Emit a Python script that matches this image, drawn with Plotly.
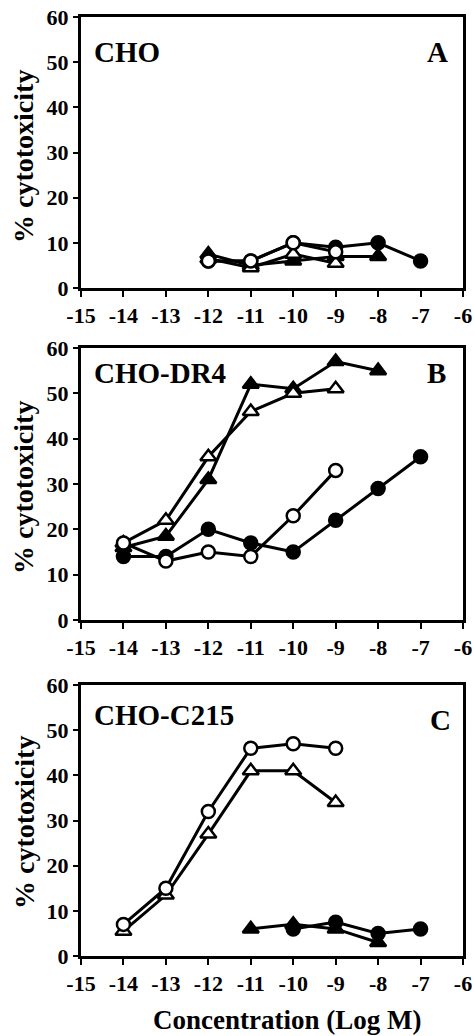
import plotly.graph_objects as go

# ---------------- data ----------------
# Panel A: CHO
a_fc_x = [-12, -11, -10, -9, -8, -7]
a_fc_y = [6, 6, 10, 9, 10, 6]
a_oc_x = [-12, -11, -10, -9]
a_oc_y = [6, 6, 10, 8]
a_ft_x = [-12, -11, -10, -9, -8]
a_ft_y = [7.5, 5, 6, 7, 7]
a_ot_x = [-12, -11, -10, -9]
a_ot_y = [6.5, 4.5, 7.5, 5.5]

# Panel B: CHO-DR4
b_fc_x = [-14, -13, -12, -11, -10, -9, -8, -7]
b_fc_y = [14, 14, 20, 17, 15, 22, 29, 36]
b_oc_x = [-14, -13, -12, -11, -10, -9]
b_oc_y = [17, 13, 15, 14, 23, 33]
b_ft_x = [-14, -13, -12, -11, -10, -9, -8]
b_ft_y = [16, 18.5, 31, 52, 51, 57, 55]
b_ot_x = [-14, -13, -12, -11, -10, -9]
b_ot_y = [17, 22, 36, 46, 50, 51]

# Panel C: CHO-C215
c_fc_x = [-10, -9, -8, -7]
c_fc_y = [6, 7.5, 5, 6]
c_oc_x = [-14, -13, -12, -11, -10, -9]
c_oc_y = [7, 15, 32, 46, 47, 46]
c_ft_x = [-11, -10, -9, -8]
c_ft_y = [6, 7, 6, 3]
c_ot_x = [-14, -13, -12, -11, -10, -9]
c_ot_y = [5.5, 13.5, 27, 41, 41, 34]

x_ticks = [-15, -14, -13, -12, -11, -10, -9, -8, -7, -6]
y_ticks = [0, 10, 20, 30, 40, 50, 60]
panel_names = ["CHO", "CHO-DR4", "CHO-C215"]
panel_letters = ["A", "B", "C"]
y_title = "% cytotoxicity"
x_title = "Concentration (Log M)"

FONT = "Liberation Serif"
W, H = 474, 1036

fig = go.Figure()

def add_series(x, y, xa, ya, symbol, filled, size):
    fig.add_trace(go.Scatter(
        x=x, y=y, xaxis=xa, yaxis=ya, mode="lines+markers",
        line=dict(color="black", width=3),
        marker=dict(symbol=symbol, size=size,
                    color="black" if filled else "white",
                    line=dict(color="black", width=2.5)),
        showlegend=False, cliponaxis=False))

panels = [
    (a_fc_x, a_fc_y, a_oc_x, a_oc_y, a_ft_x, a_ft_y, a_ot_x, a_ot_y),
    (b_fc_x, b_fc_y, b_oc_x, b_oc_y, b_ft_x, b_ft_y, b_ot_x, b_ot_y),
    (c_fc_x, c_fc_y, c_oc_x, c_oc_y, c_ft_x, c_ft_y, c_ot_x, c_ot_y),
]

# pixel geometry of the three panels (top, bottom)
px_rows = [(17, 288), (348, 620), (685, 956)]
px_left, px_right = 81, 463

layout = dict(width=W, height=H, margin=dict(l=0, r=0, t=0, b=0, autoexpand=False),
              paper_bgcolor="white", plot_bgcolor="white", showlegend=False)

annotations = []
for i, (p, (top, bot)) in enumerate(zip(panels, px_rows)):
    n = "" if i == 0 else str(i + 1)
    xa, ya = "x" + n, "y" + n
    fcx, fcy, ocx, ocy, ftx, fty, otx, oty = p
    add_series(fcx, fcy, xa, ya, "circle", True, 13)
    add_series(ftx, fty, xa, ya, "triangle-up", True, 14)
    add_series(otx, oty, xa, ya, "triangle-up", False, 14)
    add_series(ocx, ocy, xa, ya, "circle", False, 13)

    layout["xaxis" + n] = dict(
        domain=[px_left / W, px_right / W], range=[-15, -6], anchor=ya,
        tickvals=x_ticks, ticktext=["<b>%d</b>" % v for v in x_ticks],
        showline=True, linecolor="black", linewidth=3, mirror=True,
        ticks="outside", ticklen=6, tickwidth=2, tickcolor="black",
        showgrid=False, zeroline=False, automargin=False,
        tickfont=dict(family=FONT, size=22, color="black"))
    layout["yaxis" + n] = dict(
        domain=[1 - bot / H, 1 - top / H], range=[0, 60], anchor=xa,
        tickvals=y_ticks, ticktext=["<b>%d</b>" % v for v in y_ticks],
        showline=True, linecolor="black", linewidth=3, mirror=True,
        ticks="outside", ticklen=5, tickwidth=2, tickcolor="black",
        showgrid=False, zeroline=False, automargin=False,
        tickfont=dict(family=FONT, size=22, color="black"))

    annotations.append(dict(
        text="<b>%s</b>" % panel_names[i], xref=xa + " domain", yref=ya + " domain",
        x=0.03, y=[0.871, 0.908, 0.889][i], xanchor="left", yanchor="middle",
        showarrow=False, font=dict(family=FONT, size=29, color="black")))
    annotations.append(dict(
        text="<b>%s</b>" % panel_letters[i], xref=xa + " domain", yref=ya + " domain",
        x=[0.966, 0.961, 0.974][i], y=[0.871, 0.908, 0.87][i],
        xanchor="right", yanchor="middle",
        showarrow=False, font=dict(family=FONT, size=29, color="black")))
    annotations.append(dict(
        text="<b>%s</b>" % y_title, xref="paper", yref="paper",
        x=24 / W, y=1 - ([157, 488, 823][i]) / H, xanchor="center", yanchor="middle",
        textangle=-90, showarrow=False,
        font=dict(family=FONT, size=28, color="black")))

annotations.append(dict(
    text="<b>%s</b>" % x_title, xref="paper", yref="paper",
    x=287 / W, y=0, xanchor="center", yanchor="bottom", borderpad=0,
    showarrow=False, font=dict(family=FONT, size=27, color="black")))

layout["annotations"] = annotations
fig.update_layout(**layout)
fig.write_html("out.html", config={"displayModeBar": False},
               post_script="document.body.style.margin='0';document.body.style.overflow='hidden';")
